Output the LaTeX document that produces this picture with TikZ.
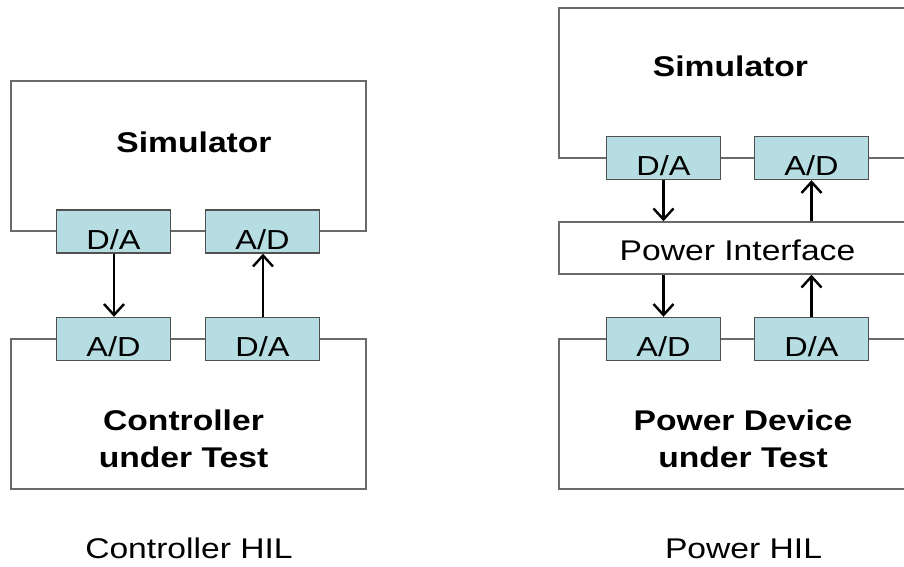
\documentclass[tikz,border=0pt]{standalone}
\usepackage{fontspec}
\usetikzlibrary{arrows.meta}
\newfontfamily\hilfont[FakeStretch=1.18]{Liberation Sans}
\definecolor{convfill}{HTML}{B6DEE2}
\definecolor{convline}{HTML}{505050}
\definecolor{frameline}{HTML}{6A6A6A}
\tikzset{
  frame/.style={draw=frameline, line width=1.5pt, fill=none, inner sep=0pt},
  conv/.style={draw=convline, line width=1.4pt, fill=convfill, inner xsep=0pt, inner ysep=0pt,
    minimum width=114pt, text height=39pt, text depth=4pt,
    font=\hilfont\fontsize{27.5}{30}\selectfont},
  title/.style={font=\hilfont\bfseries\fontsize{28.5}{37}\selectfont, anchor=base, align=center},
  plain/.style={font=\hilfont\fontsize{28.5}{32}\selectfont, anchor=base},
  flow/.style={draw=black, line width=2.4pt, -{Straight Barb[length=11pt,width=20pt,line width=2.4pt]}},
}
\begin{document}
\begin{tikzpicture}[x=1pt,y=-1pt]
  \useasboundingbox (0,0) rectangle (904,567);
  \fill[white] (0,0) rectangle (904,567);
  \clip (0,0) rectangle (904,567);

  % ---- Controller HIL ----
  \node[frame, minimum width=355pt, minimum height=150pt] (sim1) at (188.5,156) {};
  \node[frame, minimum width=355pt, minimum height=150pt] (cut1) at (188.5,414) {};
  \node[conv] (da1) at (113.5,231.5) {D/A};
  \node[conv] (ad1) at (262.5,231.5) {A/D};
  \node[conv] (ad2) at (113.5,339) {A/D};
  \node[conv] (da2) at (262.5,339) {D/A};
  \node[title] (simtxt1) at (194,152) {Simulator};
  \node[title, anchor=north] (cuttxt1) at (183.5,406) {Controller\\under Test};
  \draw[flow] (da1.south -| 114,0) -- (ad2.north -| 114,0);
  \draw[flow] (da2.north -| 263,0) -- (ad1.south -| 263,0);
  \node[plain] (cap1) at (189,558) {Controller HIL};

  % ---- Power HIL ----
  \node[frame, minimum width=355pt, minimum height=150pt] (sim2) at (736.5,83) {};
  \node[frame, minimum width=355pt, minimum height=52pt] (pif) at (736.5,248) {};
  \node[frame, minimum width=355pt, minimum height=150pt] (pdut) at (736.5,414) {};
  \node[conv] (da3) at (663.5,158) {D/A};
  \node[conv] (ad3) at (811.5,158) {A/D};
  \node[conv] (ad4) at (663.5,339) {A/D};
  \node[conv] (da4) at (811.5,339) {D/A};
  \node[title] (simtxt2) at (730.5,77) {Simulator};
  \node[plain] (piftxt) at (737.5,260) {Power Interface};
  \node[title, anchor=north] (duttxt2) at (743,406) {Power Device\\under Test};
  \draw[flow] (da3.south) -- (da3.south |- pif.north);
  \draw[flow] (pif.north -| ad3.south) -- (ad3.south);
  \draw[flow] (pif.south -| ad4.north) -- (ad4.north);
  \draw[flow] (da4.north) -- (da4.north |- pif.south);
  \node[plain] (cap2) at (743.5,558) {Power HIL};
\end{tikzpicture}
\end{document}
